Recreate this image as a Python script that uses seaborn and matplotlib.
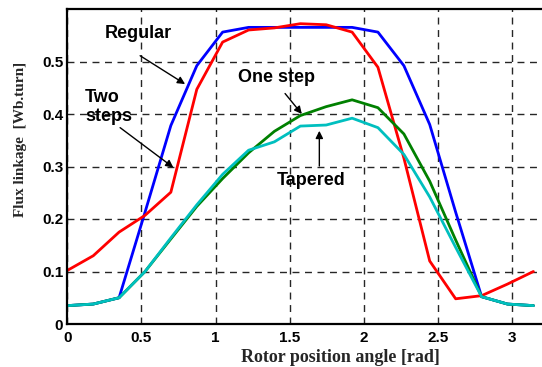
import matplotlib
matplotlib.use("Agg")
import matplotlib.pyplot as plt
import seaborn as sns
import pandas as pd

# ---- data ----
angle = [0.0, 0.175, 0.349, 0.524, 0.698, 0.873, 1.047, 1.222, 1.396, 1.571,
         1.745, 1.920, 2.094, 2.269, 2.443, 2.618, 2.793, 2.967, 3.142]
regular = [0.035, 0.038, 0.050, 0.213, 0.378, 0.492, 0.556, 0.565, 0.565, 0.565,
           0.565, 0.565, 0.556, 0.492, 0.380, 0.213, 0.052, 0.038, 0.035]
two_steps = [0.102, 0.130, 0.175, 0.207, 0.251, 0.447, 0.537, 0.560, 0.564, 0.572,
             0.570, 0.556, 0.489, 0.316, 0.120, 0.048, 0.054, 0.076, 0.100]
one_step = [0.035, 0.038, 0.050, 0.100, 0.162, 0.224, 0.277, 0.326, 0.367, 0.397,
            0.414, 0.427, 0.412, 0.362, 0.272, 0.160, 0.052, 0.038, 0.035]
tapered = [0.035, 0.038, 0.050, 0.100, 0.164, 0.227, 0.285, 0.331, 0.347, 0.377,
           0.379, 0.392, 0.374, 0.323, 0.242, 0.146, 0.052, 0.038, 0.035]

series_names = ["Regular", "Two steps", "One step", "Tapered"]
series_colors = ["#0000ff", "#ff0000", "#008000", "#00bfbf"]
x_ticks = [0, 0.5, 1, 1.5, 2, 2.5, 3]
x_tick_labels = ["0", "0.5", "1", "1.5", "2", "2.5", "3"]
y_ticks = [0, 0.1, 0.2, 0.3, 0.4, 0.5]
y_tick_labels = ["0", "0.1", "0.2", "0.3", "0.4", "0.5"]

rows = []
for name, vals in zip(series_names, [regular, two_steps, one_step, tapered]):
    for a, v in zip(angle, vals):
        rows.append({"angle": a, "flux": v, "design": name})
df = pd.DataFrame(rows)

sns.set_style("white")
plt.rcParams["font.family"] = ["Liberation Sans", "DejaVu Sans"]

fig = plt.figure(figsize=(5.42, 3.67), dpi=100)
ax = fig.add_axes([67.3 / 542, (367 - 324) / 367, 1 - 67.3 / 542, (324 - 9) / 367])

sns.lineplot(data=df, x="angle", y="flux", hue="design", hue_order=series_names,
             palette=series_colors, estimator=None, sort=False, legend=False,
             linewidth=2.0, ax=ax)

ax.set_xlim(0, 3.2)
ax.set_ylim(0, 0.6)
ax.set_xticks(x_ticks)
ax.set_xticklabels(x_tick_labels, fontweight="bold", fontsize=11)
ax.set_yticks(y_ticks)
ax.set_yticklabels(y_tick_labels, fontweight="bold", fontsize=11)
ax.tick_params(axis="both", direction="in", length=4, width=1, colors="k")
ax.tick_params(axis="x", pad=5)
ax.tick_params(axis="y", pad=3)

ax.grid(True, linestyle=(0, (5, 4)), color="0.15", linewidth=1.0)
ax.set_axisbelow(True)
for side in ["left", "bottom", "top"]:
    ax.spines[side].set_color("k")
    ax.spines[side].set_linewidth(1.6)
ax.spines["right"].set_visible(False)

ax.set_xlabel("Rotor position angle [rad]", family=["Liberation Serif"],
              fontweight="bold", fontsize=13)
ax.xaxis.set_label_coords(0.575, -0.08)
ax.set_ylabel("Flux linkage  [Wb.turn]", family=["Liberation Serif"],
              fontweight="bold", fontsize=11)
ax.yaxis.set_label_coords(-0.085, 0.586)

arrow = dict(arrowstyle="-|>", color="k", lw=1.0, mutation_scale=11,
             shrinkA=0, shrinkB=0)
tkw = dict(fontweight="bold", fontsize=13, color="k")

ax.text(0.479, 0.554, "Regular", ha="center", va="center", **tkw)
ax.annotate("", xy=(0.794, 0.457), xytext=(0.491, 0.511), arrowprops=arrow)

ax.text(0.121, 0.413, "Two\nsteps", ha="left", va="center", linespacing=1.2, **tkw)
ax.annotate("", xy=(0.715, 0.298), xytext=(0.356, 0.374), arrowprops=arrow)

ax.text(1.153, 0.470, "One step", ha="left", va="center", **tkw)
ax.annotate("", xy=(1.581, 0.400), xytext=(1.468, 0.439), arrowprops=arrow)

ax.text(1.643, 0.273, "Tapered", ha="center", va="center", **tkw)
ax.annotate("", xy=(1.699, 0.368), xytext=(1.699, 0.301), arrowprops=arrow)

fig.savefig("out.png", dpi=100)
